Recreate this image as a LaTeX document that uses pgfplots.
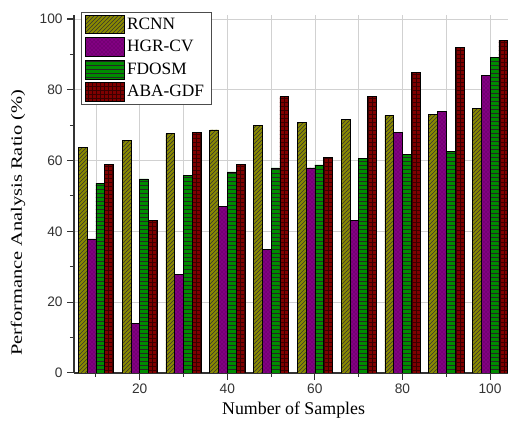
\documentclass[border=0pt]{standalone}
\usepackage{fontspec}
\setmainfont{Liberation Serif}
\newfontfamily\tickfont{Liberation Sans}
\newfontfamily\ylabfont[FakeStretch=1.3]{Liberation Serif}
\usepackage{pgfplots}
\pgfplotsset{compat=1.18}
\usetikzlibrary{patterns}
\definecolor{cR}{HTML}{8A8A00}
\definecolor{cH}{HTML}{820082}
\definecolor{cF}{HTML}{008C00}
\definecolor{cA}{HTML}{800000}
\begin{document}
\begin{tikzpicture}
\begin{axis}[
  scale only axis,
  width=325.5pt, height=268.1pt,
  xmin=5, xmax=104.1, ymin=0, ymax=101,
  axis x line*=bottom, axis y line*=left,
  axis line style={black!80, line width=0.9pt},
  xtick={20,40,60,80,100}, minor xtick={10,30,50,70,90},
  ytick={0,20,40,60,80,100}, minor ytick={10,30,50,70,90},
  tick align=outside,
  major tick length=5pt, minor tick length=3pt,
  tick style={black!80, line width=0.8pt},
  xmajorgrids=true, xminorgrids=true, ymajorgrids=true,
  major grid style={black!18, line width=0.5pt},
  minor grid style={black!18, line width=0.5pt},
  /pgf/number format/assume math mode=true,
  tick label style={font=\tickfont\fontsize{10.3}{12}\selectfont, text=black!80},
  xlabel={Number of Samples},
  ylabel={Performance Analysis Ratio (\%)},
  xlabel style={font=\fontsize{13.4}{15}\selectfont, at={(axis description cs:0.506,-0.103)}, anchor=center},
  ylabel style={font=\ylabfont\fontsize{11.8}{14}\selectfont, at={(axis description cs:-0.129,0.42)}, anchor=center},
  ybar, bar width=2,
  legend cell align=left,
  legend image code/.code={\draw[#1] (0pt,-7pt) rectangle (29pt,7pt);},
  legend style={at={(axis description cs:0.016,1.01)}, anchor=north west,
    draw=black!70, font=\fontsize{13}{15}\selectfont, row sep=2.5pt,
    inner xsep=3pt, inner ysep=2pt},
]
\addplot[draw=black, line width=0.4pt, fill=cR, bar shift=-3,
  postaction={pattern=north east lines, pattern color=black!80}]
  coordinates {(10,63.7) (20,65.8) (30,67.6) (40,68.7) (50,69.9) (60,70.8) (70,71.7) (80,72.8) (90,73.1) (100,74.7)};
\addplot[draw=black, line width=0.4pt, fill=cH, bar shift=-1,
  postaction={pattern=crosshatch dots, pattern color=cH!55!black}]
  coordinates {(10,37.9) (20,14.0) (30,27.9) (40,47.0) (50,35.0) (60,57.9) (70,43.0) (80,68.0) (90,73.9) (100,84.0)};
\addplot[draw=black, line width=0.4pt, fill=cF, bar shift=1,
  postaction={pattern=horizontal lines, pattern color=black!85}]
  coordinates {(10,53.6) (20,54.8) (30,55.8) (40,56.8) (50,57.9) (60,58.8) (70,60.6) (80,61.8) (90,62.5) (100,89.1)};
\addplot[draw=black, line width=0.4pt, fill=cA, bar shift=3,
  postaction={pattern=grid, pattern color=cA!45!black}]
  coordinates {(10,59.0) (20,43.0) (30,68.0) (40,59.0) (50,78.1) (60,61.0) (70,78.1) (80,85.0) (90,92.0) (100,94.0)};
\legend{RCNN,HGR-CV,FDOSM,ABA-GDF\hspace{8pt}}
\end{axis}
\pgfresetboundingbox
\path[use as bounding box] ([xshift=-55.5pt,yshift=-42.75pt]current axis.south west) rectangle ([yshift=11.6pt]current axis.north east);
\end{tikzpicture}
\end{document}
